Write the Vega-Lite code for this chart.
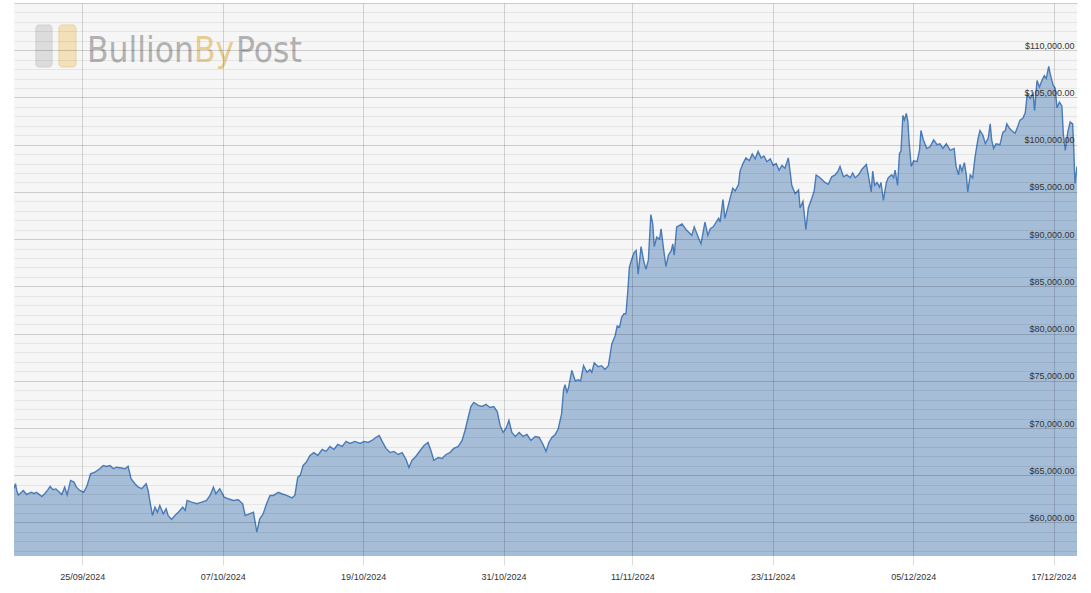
{
  "$schema": "https://vega.github.io/schema/vega-lite/v6.json",
  "width": 1063,
  "height": 553,
  "autosize": "none",
  "padding": {"left": 14, "top": 3, "right": 14, "bottom": 37},
  "background": "white",
  "config": {"view": {"fill": "#f6f6f6", "stroke": null}},
  "data": {"values": [
    {"date":"2024-09-19T04:00","price":63600},{"date":"2024-09-19T07:00","price":64100},{"date":"2024-09-19T10:00","price":63300},{"date":"2024-09-19T13:00","price":62900},{"date":"2024-09-19T16:00","price":63040},{"date":"2024-09-19T23:00","price":63390},
    {"date":"2024-09-20T06:00","price":62960},{"date":"2024-09-20T11:00","price":63100},{"date":"2024-09-20T16:00","price":63200},{"date":"2024-09-20T21:00","price":63050},
    {"date":"2024-09-21T02:00","price":63200},{"date":"2024-09-21T07:00","price":63000},{"date":"2024-09-21T13:00","price":62750},{"date":"2024-09-21T19:00","price":63040},
    {"date":"2024-09-22T02:00","price":63500},{"date":"2024-09-22T06:00","price":63810},{"date":"2024-09-22T12:00","price":63460},{"date":"2024-09-22T18:00","price":63550},{"date":"2024-09-22T23:00","price":63310},
    {"date":"2024-09-23T06:00","price":62960},{"date":"2024-09-23T12:00","price":63740},{"date":"2024-09-23T17:00","price":62930},
    {"date":"2024-09-24T00:00","price":64450},{"date":"2024-09-24T07:00","price":64270},{"date":"2024-09-24T12:00","price":63740},{"date":"2024-09-24T19:00","price":63390},
    {"date":"2024-09-25T03:00","price":63200},{"date":"2024-09-25T10:00","price":63920},{"date":"2024-09-25T17:00","price":65160},
    {"date":"2024-09-26T02:00","price":65330},{"date":"2024-09-26T12:00","price":65690},{"date":"2024-09-26T19:00","price":66040},
    {"date":"2024-09-27T02:00","price":65930},{"date":"2024-09-27T09:00","price":66040},{"date":"2024-09-27T16:00","price":65690},{"date":"2024-09-27T22:00","price":65850},
    {"date":"2024-09-28T05:00","price":65790},{"date":"2024-09-28T16:00","price":65690},{"date":"2024-09-28T22:00","price":65960},
    {"date":"2024-09-29T04:00","price":64630},{"date":"2024-09-29T12:00","price":64100},{"date":"2024-09-29T19:00","price":63740},
    {"date":"2024-09-30T02:00","price":63570},{"date":"2024-09-30T11:00","price":64100},{"date":"2024-09-30T15:00","price":63390},{"date":"2024-09-30T19:00","price":62150},
    {"date":"2024-10-01T00:00","price":60740},{"date":"2024-10-01T05:00","price":61620},{"date":"2024-10-01T10:00","price":61090},{"date":"2024-10-01T15:00","price":61800},{"date":"2024-10-01T22:00","price":60920},
    {"date":"2024-10-02T04:00","price":61450},{"date":"2024-10-02T08:00","price":60740},{"date":"2024-10-02T15:00","price":60320},{"date":"2024-10-02T22:00","price":60740},
    {"date":"2024-10-03T05:00","price":61090},{"date":"2024-10-03T14:00","price":61620},{"date":"2024-10-03T19:00","price":61270},{"date":"2024-10-03T23:00","price":62330},
    {"date":"2024-10-04T08:00","price":62150},{"date":"2024-10-04T19:00","price":61980},
    {"date":"2024-10-05T05:00","price":62150},{"date":"2024-10-05T15:00","price":62330},{"date":"2024-10-05T22:00","price":62860},
    {"date":"2024-10-06T05:00","price":63740},{"date":"2024-10-06T10:00","price":63040},{"date":"2024-10-06T18:00","price":63570},
    {"date":"2024-10-07T03:00","price":62680},{"date":"2024-10-07T11:00","price":62510},{"date":"2024-10-07T22:00","price":62330},
    {"date":"2024-10-08T08:00","price":62400},{"date":"2024-10-08T17:00","price":61980},{"date":"2024-10-08T22:00","price":60740},
    {"date":"2024-10-09T07:00","price":60920},{"date":"2024-10-09T15:00","price":61090},{"date":"2024-10-09T22:00","price":58970},
    {"date":"2024-10-10T04:00","price":60390},{"date":"2024-10-10T11:00","price":60920},{"date":"2024-10-10T18:00","price":61980},
    {"date":"2024-10-11T01:00","price":62860},{"date":"2024-10-11T08:00","price":62860},{"date":"2024-10-11T18:00","price":63200},
    {"date":"2024-10-12T01:00","price":63040},{"date":"2024-10-12T11:00","price":62860},{"date":"2024-10-12T22:00","price":62610},
    {"date":"2024-10-13T04:00","price":62860},{"date":"2024-10-13T10:00","price":64800},{"date":"2024-10-13T15:00","price":64980},{"date":"2024-10-13T21:00","price":66040},
    {"date":"2024-10-14T03:00","price":66350},{"date":"2024-10-14T11:00","price":67100},{"date":"2024-10-14T19:00","price":67400},
    {"date":"2024-10-15T03:00","price":67100},{"date":"2024-10-15T12:00","price":67730},{"date":"2024-10-15T20:00","price":67520},
    {"date":"2024-10-16T04:00","price":68050},{"date":"2024-10-16T12:00","price":67730},{"date":"2024-10-16T20:00","price":68260},
    {"date":"2024-10-17T05:00","price":68050},{"date":"2024-10-17T13:00","price":68580},{"date":"2024-10-17T21:00","price":68370},
    {"date":"2024-10-18T07:00","price":68580},{"date":"2024-10-18T18:00","price":68370},
    {"date":"2024-10-19T02:00","price":68580},{"date":"2024-10-19T10:00","price":68470},{"date":"2024-10-19T18:00","price":68680},
    {"date":"2024-10-20T02:00","price":69000},{"date":"2024-10-20T09:00","price":69210},{"date":"2024-10-20T15:00","price":68580},{"date":"2024-10-20T23:00","price":67840},
    {"date":"2024-10-21T07:00","price":67400},{"date":"2024-10-21T15:00","price":67520},
    {"date":"2024-10-22T00:00","price":67200},{"date":"2024-10-22T08:00","price":67400},{"date":"2024-10-22T16:00","price":66670},{"date":"2024-10-22T22:00","price":65820},
    {"date":"2024-10-23T04:00","price":66570},{"date":"2024-10-23T12:00","price":66990},{"date":"2024-10-23T21:00","price":67620},
    {"date":"2024-10-24T05:00","price":68150},{"date":"2024-10-24T13:00","price":68470},{"date":"2024-10-24T19:00","price":67620},
    {"date":"2024-10-25T01:00","price":66570},{"date":"2024-10-25T10:00","price":66880},{"date":"2024-10-25T18:00","price":66780},
    {"date":"2024-10-26T02:00","price":67200},{"date":"2024-10-26T10:00","price":67400},{"date":"2024-10-26T18:00","price":67840},
    {"date":"2024-10-27T03:00","price":68050},{"date":"2024-10-27T11:00","price":68680},{"date":"2024-10-27T17:00","price":69740},{"date":"2024-10-27T23:00","price":71010},
    {"date":"2024-10-28T05:00","price":72280},{"date":"2024-10-28T11:00","price":72710},{"date":"2024-10-28T20:00","price":72390},
    {"date":"2024-10-29T04:00","price":72280},{"date":"2024-10-29T12:00","price":72500},{"date":"2024-10-29T20:00","price":72180},
    {"date":"2024-10-30T04:00","price":72280},{"date":"2024-10-30T11:00","price":71750},{"date":"2024-10-30T17:00","price":70270},{"date":"2024-10-30T23:00","price":69530},
    {"date":"2024-10-31T05:00","price":69950},{"date":"2024-10-31T11:00","price":70800},{"date":"2024-10-31T17:00","price":69530},
    {"date":"2024-11-01T00:00","price":69110},{"date":"2024-11-01T08:00","price":69530},{"date":"2024-11-01T16:00","price":69110},
    {"date":"2024-11-02T00:00","price":69320},{"date":"2024-11-02T08:00","price":68680},{"date":"2024-11-02T17:00","price":69110},
    {"date":"2024-11-03T01:00","price":69000},{"date":"2024-11-03T09:00","price":68260},{"date":"2024-11-03T15:00","price":67520},{"date":"2024-11-03T21:00","price":68470},
    {"date":"2024-11-04T03:00","price":69000},{"date":"2024-11-04T10:00","price":69320},{"date":"2024-11-04T16:00","price":69900},{"date":"2024-11-04T23:00","price":71500},
    {"date":"2024-11-05T03:00","price":74000},{"date":"2024-11-05T06:00","price":74600},{"date":"2024-11-05T10:00","price":73800},{"date":"2024-11-05T13:00","price":74200},{"date":"2024-11-05T20:00","price":76100},
    {"date":"2024-11-06T03:00","price":75000},{"date":"2024-11-06T09:00","price":75100},{"date":"2024-11-06T14:00","price":75000},{"date":"2024-11-06T20:00","price":76600},
    {"date":"2024-11-07T03:00","price":75900},{"date":"2024-11-07T09:00","price":76200},{"date":"2024-11-07T13:00","price":75900},{"date":"2024-11-07T18:00","price":76900},
    {"date":"2024-11-08T02:00","price":76500},{"date":"2024-11-08T09:00","price":76600},{"date":"2024-11-08T16:00","price":76200},{"date":"2024-11-08T23:00","price":76600},
    {"date":"2024-11-09T06:00","price":78900},{"date":"2024-11-09T13:00","price":79800},{"date":"2024-11-09T17:00","price":80800},{"date":"2024-11-09T22:00","price":80700},
    {"date":"2024-11-10T02:00","price":81700},{"date":"2024-11-10T07:00","price":82100},{"date":"2024-11-10T11:00","price":82100},{"date":"2024-11-10T15:00","price":84600},{"date":"2024-11-10T18:00","price":87000},{"date":"2024-11-10T23:00","price":87900},
    {"date":"2024-11-11T04:00","price":88600},{"date":"2024-11-11T08:00","price":88800},{"date":"2024-11-11T12:00","price":86300},{"date":"2024-11-11T18:00","price":89200},{"date":"2024-11-11T23:00","price":87800},
    {"date":"2024-11-12T04:00","price":86800},{"date":"2024-11-12T09:00","price":87800},{"date":"2024-11-12T14:00","price":92600},{"date":"2024-11-12T18:00","price":91600},{"date":"2024-11-12T21:00","price":89200},
    {"date":"2024-11-13T02:00","price":90200},{"date":"2024-11-13T08:00","price":90000},{"date":"2024-11-13T11:00","price":91100},{"date":"2024-11-13T16:00","price":89000},{"date":"2024-11-13T21:00","price":87100},
    {"date":"2024-11-14T02:00","price":88300},{"date":"2024-11-14T08:00","price":88800},{"date":"2024-11-14T11:00","price":89500},{"date":"2024-11-14T14:00","price":88300},{"date":"2024-11-14T19:00","price":91300},
    {"date":"2024-11-15T06:00","price":91600},{"date":"2024-11-15T16:00","price":90900},
    {"date":"2024-11-16T02:00","price":90400},{"date":"2024-11-16T07:00","price":91300},{"date":"2024-11-16T16:00","price":90100},{"date":"2024-11-16T21:00","price":89500},
    {"date":"2024-11-17T05:00","price":91800},{"date":"2024-11-17T11:00","price":90400},{"date":"2024-11-17T16:00","price":91100},{"date":"2024-11-17T22:00","price":91300},
    {"date":"2024-11-18T09:00","price":92200},{"date":"2024-11-18T12:00","price":91800},{"date":"2024-11-18T18:00","price":94200},{"date":"2024-11-18T22:00","price":92200},
    {"date":"2024-11-19T05:00","price":93600},{"date":"2024-11-19T14:00","price":95400},{"date":"2024-11-19T19:00","price":95100},
    {"date":"2024-11-20T02:00","price":95800},{"date":"2024-11-20T05:00","price":97200},{"date":"2024-11-20T11:00","price":98000},{"date":"2024-11-20T17:00","price":98600},
    {"date":"2024-11-21T00:00","price":98300},{"date":"2024-11-21T06:00","price":99000},{"date":"2024-11-21T12:00","price":98500},{"date":"2024-11-21T18:00","price":99300},
    {"date":"2024-11-22T00:00","price":98600},{"date":"2024-11-22T06:00","price":98800},{"date":"2024-11-22T12:00","price":98200},{"date":"2024-11-22T19:00","price":98500},
    {"date":"2024-11-23T01:00","price":97800},{"date":"2024-11-23T07:00","price":98000},{"date":"2024-11-23T13:00","price":97300},{"date":"2024-11-23T19:00","price":97800},
    {"date":"2024-11-24T01:00","price":97500},{"date":"2024-11-24T08:00","price":98600},{"date":"2024-11-24T12:00","price":97000},{"date":"2024-11-24T15:00","price":95700},{"date":"2024-11-24T22:00","price":94800},
    {"date":"2024-11-25T05:00","price":95200},{"date":"2024-11-25T08:00","price":93300},{"date":"2024-11-25T14:00","price":94000},{"date":"2024-11-25T20:00","price":91000},
    {"date":"2024-11-26T01:00","price":93300},{"date":"2024-11-26T08:00","price":94300},{"date":"2024-11-26T13:00","price":95100},{"date":"2024-11-26T17:00","price":96800},
    {"date":"2024-11-27T01:00","price":96500},{"date":"2024-11-27T11:00","price":96000},{"date":"2024-11-27T18:00","price":95800},
    {"date":"2024-11-28T01:00","price":96600},{"date":"2024-11-28T08:00","price":96800},{"date":"2024-11-28T14:00","price":97200},{"date":"2024-11-28T18:00","price":97700},
    {"date":"2024-11-29T01:00","price":96600},{"date":"2024-11-29T08:00","price":96800},{"date":"2024-11-29T15:00","price":96500},{"date":"2024-11-29T20:00","price":97000},
    {"date":"2024-11-30T01:00","price":96500},{"date":"2024-11-30T08:00","price":96800},{"date":"2024-11-30T15:00","price":97400},
    {"date":"2024-12-01T00:00","price":97900},{"date":"2024-12-01T04:00","price":96800},{"date":"2024-12-01T10:00","price":95000},{"date":"2024-12-01T13:00","price":97200},{"date":"2024-12-01T17:00","price":95700},{"date":"2024-12-01T22:00","price":96000},
    {"date":"2024-12-02T03:00","price":95500},{"date":"2024-12-02T06:00","price":96000},{"date":"2024-12-02T11:00","price":94100},{"date":"2024-12-02T17:00","price":96000},{"date":"2024-12-02T21:00","price":96500},
    {"date":"2024-12-03T04:00","price":96800},{"date":"2024-12-03T08:00","price":96500},{"date":"2024-12-03T11:00","price":97300},{"date":"2024-12-03T16:00","price":95700},{"date":"2024-12-03T20:00","price":99100},{"date":"2024-12-03T23:00","price":99300},
    {"date":"2024-12-04T03:00","price":103100},{"date":"2024-12-04T06:00","price":102600},{"date":"2024-12-04T10:00","price":103300},{"date":"2024-12-04T13:00","price":102500},{"date":"2024-12-04T16:00","price":100100},{"date":"2024-12-04T20:00","price":97700},
    {"date":"2024-12-05T01:00","price":98300},{"date":"2024-12-05T08:00","price":98200},{"date":"2024-12-05T13:00","price":99400},{"date":"2024-12-05T16:00","price":101500},{"date":"2024-12-05T21:00","price":100500},
    {"date":"2024-12-06T04:00","price":99600},{"date":"2024-12-06T11:00","price":99800},{"date":"2024-12-06T18:00","price":100500},
    {"date":"2024-12-07T01:00","price":100000},{"date":"2024-12-07T07:00","price":100100},{"date":"2024-12-07T13:00","price":99600},{"date":"2024-12-07T20:00","price":100100},
    {"date":"2024-12-08T04:00","price":99400},{"date":"2024-12-08T12:00","price":99600},{"date":"2024-12-08T16:00","price":97700},{"date":"2024-12-08T21:00","price":96800},
    {"date":"2024-12-09T00:00","price":97900},{"date":"2024-12-09T04:00","price":97200},{"date":"2024-12-09T09:00","price":98100},{"date":"2024-12-09T13:00","price":96800},{"date":"2024-12-09T16:00","price":95000},{"date":"2024-12-09T21:00","price":96800},
    {"date":"2024-12-10T02:00","price":96500},{"date":"2024-12-10T07:00","price":98700},{"date":"2024-12-10T13:00","price":100600},{"date":"2024-12-10T17:00","price":101500},{"date":"2024-12-10T23:00","price":101000},
    {"date":"2024-12-11T04:00","price":100100},{"date":"2024-12-11T10:00","price":100700},{"date":"2024-12-11T14:00","price":102200},{"date":"2024-12-11T17:00","price":100500},{"date":"2024-12-11T21:00","price":99600},
    {"date":"2024-12-12T02:00","price":100100},{"date":"2024-12-12T10:00","price":100000},{"date":"2024-12-12T16:00","price":101300},{"date":"2024-12-12T21:00","price":101500},
    {"date":"2024-12-13T00:00","price":102200},{"date":"2024-12-13T06:00","price":101700},{"date":"2024-12-13T10:00","price":101500},{"date":"2024-12-13T17:00","price":101200},{"date":"2024-12-13T21:00","price":101700},
    {"date":"2024-12-14T03:00","price":102600},{"date":"2024-12-14T09:00","price":102800},{"date":"2024-12-14T14:00","price":103400},{"date":"2024-12-14T18:00","price":105400},
    {"date":"2024-12-15T00:00","price":104900},{"date":"2024-12-15T06:00","price":105400},{"date":"2024-12-15T09:00","price":103600},{"date":"2024-12-15T14:00","price":106800},{"date":"2024-12-15T19:00","price":106100},
    {"date":"2024-12-16T00:00","price":106800},{"date":"2024-12-16T05:00","price":107300},{"date":"2024-12-16T09:00","price":107000},{"date":"2024-12-16T14:00","price":108300},{"date":"2024-12-16T17:00","price":107500},{"date":"2024-12-16T23:00","price":106300},
    {"date":"2024-12-17T03:00","price":106000},{"date":"2024-12-17T07:00","price":103900},{"date":"2024-12-17T12:00","price":104500},{"date":"2024-12-17T17:00","price":104100},{"date":"2024-12-17T20:00","price":101100},
    {"date":"2024-12-18T00:00","price":99400},{"date":"2024-12-18T05:00","price":101300},{"date":"2024-12-18T10:00","price":102400},{"date":"2024-12-18T15:00","price":102200},{"date":"2024-12-18T17:00","price":100100},{"date":"2024-12-18T19:00","price":97000},{"date":"2024-12-18T20:00","price":95900},
    {"date":"2024-12-19T00:00","price":97700}
  ]},
  "layer": [
    {
      "data": {"values": [{}]},
      "mark": {"type": "rect", "color": "#dadada", "stroke": "#cccccc", "strokeWidth": 1, "cornerRadius": 3, "opacity": 0.9},
      "encoding": {
        "x": {"datum": {"year": 2024, "month": 9, "date": 21, "hours": 1}, "type": "temporal"},
        "x2": {"datum": {"year": 2024, "month": 9, "date": 22, "hours": 9, "minutes": 51}},
        "y": {"datum": 112671, "type": "quantitative"},
        "y2": {"datum": 108224}
      }
    },
    {
      "data": {"values": [{}]},
      "mark": {"type": "rect", "color": "#f2dfb2", "stroke": "#e8d198", "strokeWidth": 1, "cornerRadius": 3, "opacity": 0.9},
      "encoding": {
        "x": {"datum": {"year": 2024, "month": 9, "date": 23, "hours": 0, "minutes": 12}, "type": "temporal"},
        "x2": {"datum": {"year": 2024, "month": 9, "date": 24, "hours": 11, "minutes": 6}},
        "y": {"datum": 112671, "type": "quantitative"},
        "y2": {"datum": 108224}
      }
    },
    {
      "data": {"values": [{}]},
      "mark": {"type": "text", "text": "Bullion", "font": "DejaVu Sans Condensed, sans-serif", "fontSize": 35, "color": "#b2b2b2", "align": "left", "baseline": "alphabetic"},
      "encoding": {
        "x": {"datum": {"year": 2024, "month": 9, "date": 25, "hours": 9, "minutes": 38}, "type": "temporal"},
        "y": {"datum": 108753, "type": "quantitative"}
      }
    },
    {
      "data": {"values": [{}]},
      "mark": {"type": "text", "text": "By", "font": "DejaVu Sans Condensed, sans-serif", "fontSize": 35, "color": "#e6cd92", "align": "left", "baseline": "alphabetic"},
      "encoding": {
        "x": {"datum": {"year": 2024, "month": 10, "date": 4, "hours": 13, "minutes": 8}, "type": "temporal"},
        "y": {"datum": 108753, "type": "quantitative"}
      }
    },
    {
      "data": {"values": [{}]},
      "mark": {"type": "text", "text": "Post", "font": "DejaVu Sans Condensed, sans-serif", "fontSize": 35, "color": "#b2b2b2", "align": "left", "baseline": "alphabetic"},
      "encoding": {
        "x": {"datum": {"year": 2024, "month": 10, "date": 8, "hours": 3, "minutes": 18}, "type": "temporal"},
        "y": {"datum": 108753, "type": "quantitative"}
      }
    },
    {
      "mark": {"type": "area", "color": "#a6bdd7", "opacity": 1, "clip": true},
      "encoding": {
        "x": {
          "field": "date", "type": "temporal",
          "scale": {"domain": [{"year": 2024, "month": 9, "date": 19, "hours": 4}, {"year": 2024, "month": 12, "date": 19, "hours": 0}]},
          "axis": {
            "title": null,
            "values": [
              {"year": 2024, "month": 9, "date": 25},
              {"year": 2024, "month": 10, "date": 7},
              {"year": 2024, "month": 10, "date": 19},
              {"year": 2024, "month": 10, "date": 31},
              {"year": 2024, "month": 11, "date": 11},
              {"year": 2024, "month": 11, "date": 23},
              {"year": 2024, "month": 12, "date": 5},
              {"year": 2024, "month": 12, "date": 17}
            ],
            "tickCount": 100,
            "format": "%d/%m/%Y",
            "labelFont": "Liberation Sans, Arial, sans-serif",
            "labelFontSize": 9,
            "labelColor": "#333333",
            "labelPadding": 7,
            "labelFlush": false,
            "labelOverlap": false,
            "tickSize": 9,
            "tickColor": "#dddddd",
            "domain": false,
            "grid": true,
            "gridColor": "rgba(0,0,0,0.15)",
            "zindex": 1
          }
        },
        "y": {
          "field": "price", "type": "quantitative",
          "scale": {"domain": [56450, 115000], "zero": false, "nice": false},
          "axis": {
            "title": null,
            "orient": "right",
            "values": [57000,58000,59000,60000,61000,62000,63000,64000,65000,66000,67000,68000,69000,70000,71000,72000,73000,74000,75000,76000,77000,78000,79000,80000,81000,82000,83000,84000,85000,86000,87000,88000,89000,90000,91000,92000,93000,94000,95000,96000,97000,98000,99000,100000,101000,102000,103000,104000,105000,106000,107000,108000,109000,110000,111000,112000,113000,114000,115000],
            "tickCount": 200,
            "grid": true,
            "gridColor": {"condition": {"test": "datum.value % 5000 === 0", "value": "rgba(0,0,0,0.17)"}, "value": "rgba(0,0,0,0.065)"},
            "ticks": false,
            "tickSize": 0,
            "domain": false,
            "labelExpr": "datum.value % 5000 === 0 && datum.value < 115000 ? '$' + format(datum.value, ',.2f') : ''",
            "labelAlign": "right",
            "labelPadding": -3,
            "labelBaseline": "alphabetic",
            "labelOffset": -2,
            "labelFont": "Liberation Sans, Arial, sans-serif",
            "labelFontSize": 9,
            "labelColor": "#333333",
            "labelOverlap": false,
            "labelFlush": false,
            "zindex": 1
          }
        }
      }
    },
    {
      "mark": {"type": "line", "color": "#4a7cb9", "strokeWidth": 1.4, "clip": true},
      "encoding": {
        "x": {"field": "date", "type": "temporal"},
        "y": {"field": "price", "type": "quantitative"}
      }
    }
  ]
}
